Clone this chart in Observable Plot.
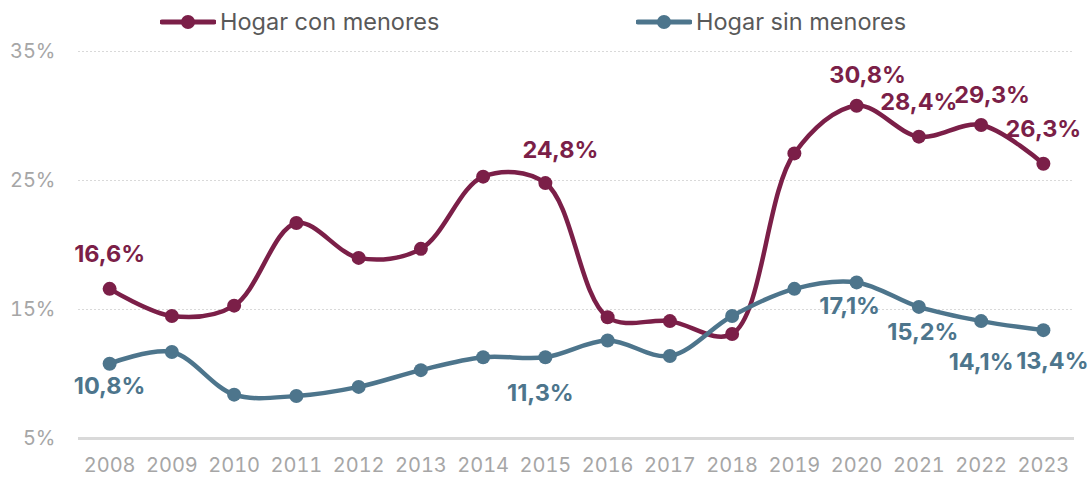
<!DOCTYPE html>
<html>
<head>
<meta charset="utf-8">
<script src="https://cdn.jsdelivr.net/npm/d3@7"></script>
<script src="https://cdn.jsdelivr.net/npm/@observablehq/plot@0.6"></script>
<style>
  body { margin: 0; background: #fff; font-family: Inter, "Noto Sans", sans-serif; }
  #legend { position: relative; height: 40px; width: 1091px; }
  .item { position: absolute; top: 7px; display: flex; align-items: center; font-size: 23.5px; color: #595959; }
  .item svg { margin-right: 4px; }
</style>
</head>
<body>
<div id="legend"></div>
<div id="chart"></div>
<script>
const years = [2008,2009,2010,2011,2012,2013,2014,2015,2016,2017,2018,2019,2020,2021,2022,2023];
const conMenores = [16.6,14.5,15.3,21.7,19.0,19.7,25.3,24.8,14.4,14.1,13.1,27.1,30.8,28.4,29.3,26.3];
const sinMenores = [10.8,11.7,8.4,8.3,9.0,10.3,11.3,11.3,12.6,11.4,14.5,16.6,17.1,15.2,14.1,13.4];
const seriesNames = ["Hogar con menores", "Hogar sin menores"];
const colors = ["#7b1f48", "#4d758c"];
const yTicks = [5, 15, 25, 35];

const rows = [];
years.forEach((y, i) => {
  rows.push({year: y, value: conMenores[i], serie: seriesNames[0]});
  rows.push({year: y, value: sinMenores[i], serie: seriesNames[1]});
});
const fmt = v => v.toFixed(1).replace(".", ",") + "%";
const con = rows.filter(d => d.serie === seriesNames[0]);
const sin = rows.filter(d => d.serie === seriesNames[1]);
const lab = (arr, yrs) => arr.filter(d => yrs.includes(d.year));

// legend
const legend = document.getElementById("legend");
[[160, 0], [636, 1]].forEach(([left, k]) => {
  const div = document.createElement("div");
  div.className = "item";
  div.style.left = left + "px";
  div.innerHTML = `<svg width="56" height="20"><line x1="2" y1="10" x2="54" y2="10" stroke="${colors[k]}" stroke-width="5" stroke-linecap="round"/><circle cx="28" cy="10" r="7" fill="${colors[k]}"/></svg><span>${seriesNames[k]}</span>`;
  legend.appendChild(div);
});

const labelFont = {fontSize: 23.5, fontWeight: "bold"};
const plot = Plot.plot({
  width: 1091,
  height: 439,
  marginTop: 11,
  marginBottom: 41,
  marginLeft: 78,
  marginRight: 17,
  style: {fontFamily: "Inter, 'Noto Sans', sans-serif", background: "#fff", overflow: "visible"},
  x: {domain: [2007.5, 2023.5], axis: null},
  y: {domain: [5, 35], axis: null},
  marks: [
    Plot.ruleY(yTicks.filter(t => t !== 5), {stroke: "#d9d9d9", strokeDasharray: "2,2", strokeWidth: 1}),
    Plot.ruleY([5], {stroke: "#d9d9d9", strokeWidth: 3}),
    Plot.axisY({ticks: yTicks, label: null, tickSize: 0, tickPadding: 23, tickFormat: d => d + "%", fontSize: 20, fill: "#a6a6a6"}),
    Plot.axisX({ticks: years, label: null, tickSize: 0, tickPadding: 19, tickFormat: d => String(d), fontSize: 20, fill: "#a6a6a6"}),
    Plot.line(rows, {x: "year", y: "value", z: "serie", stroke: "serie", strokeWidth: 4.5, curve: "catmull-rom"}),
    Plot.dot(rows, {x: "year", y: "value", fill: "serie", r: 7}),
    // con menores labels (above)
    Plot.text(lab(con, [2008, 2021, 2023]), {x: "year", y: "value", text: d => fmt(d.value), dy: -34, fill: colors[0], ...labelFont}),
    Plot.text(lab(con, [2015]), {x: "year", y: "value", text: d => fmt(d.value), dy: -33, dx: 15, fill: colors[0], ...labelFont}),
    Plot.text(lab(con, [2020, 2022]), {x: "year", y: "value", text: d => fmt(d.value), dy: -30, dx: 11, fill: colors[0], ...labelFont}),
    // sin menores labels (below)
    Plot.text(lab(sin, [2008]), {x: "year", y: "value", text: d => fmt(d.value), dy: 23, fill: colors[1], ...labelFont}),
    Plot.text(lab(sin, [2015]), {x: "year", y: "value", text: d => fmt(d.value), dy: 36, dx: -5, fill: colors[1], ...labelFont}),
    Plot.text(lab(sin, [2020]), {x: "year", y: "value", text: d => fmt(d.value), dy: 24, dx: -7, fill: colors[1], ...labelFont}),
    Plot.text(lab(sin, [2021]), {x: "year", y: "value", text: d => fmt(d.value), dy: 26, dx: 4, fill: colors[1], ...labelFont}),
    Plot.text(lab(sin, [2022]), {x: "year", y: "value", text: d => fmt(d.value), dy: 41, dx: 0, fill: colors[1], ...labelFont}),
    Plot.text(lab(sin, [2023]), {x: "year", y: "value", text: d => fmt(d.value), dy: 31, dx: 9, fill: colors[1], ...labelFont})
  ],
  color: {domain: seriesNames, range: colors}
});
document.getElementById("chart").appendChild(plot);
</script>
</body>
</html>
